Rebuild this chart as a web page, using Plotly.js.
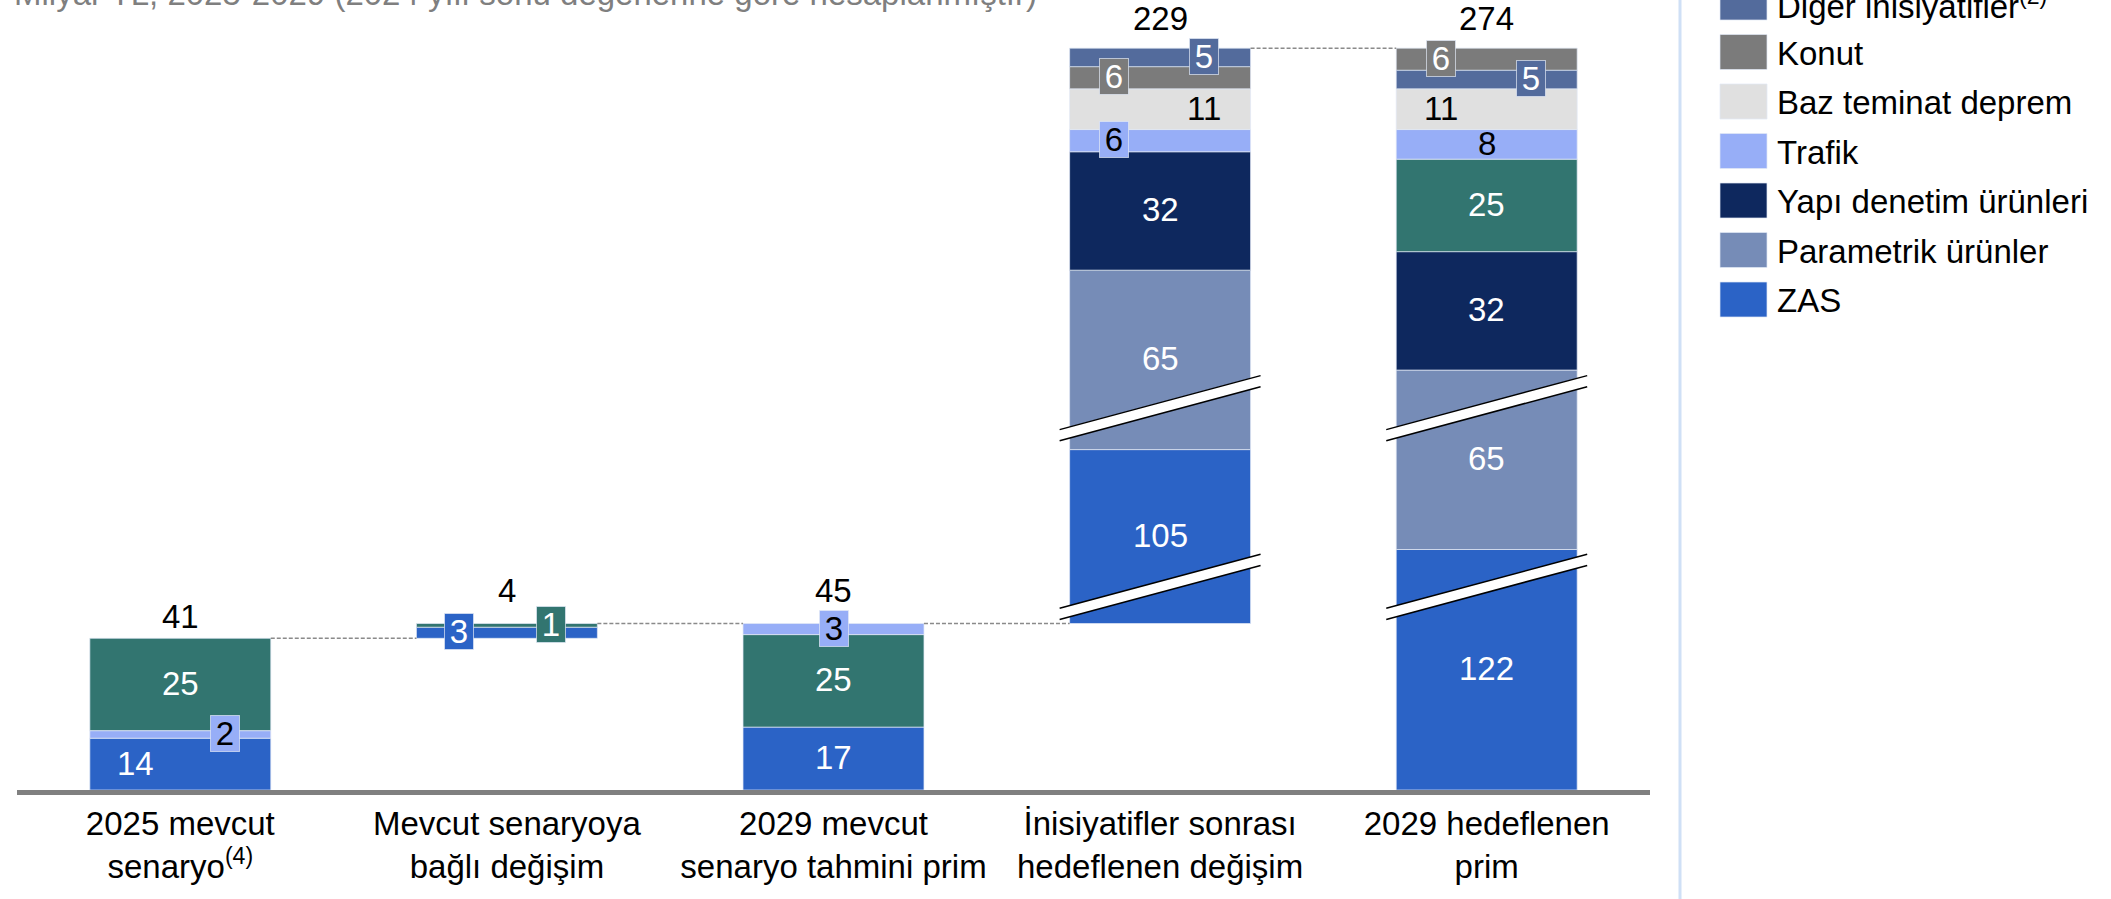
<!DOCTYPE html>
<html><head><meta charset="utf-8">
<script src="https://cdn.plot.ly/plotly-3.0.1.min.js"></script>
<style>html,body{margin:0;padding:0;background:#fff;}#chart{width:2111px;height:899px;}</style>
</head><body><div id="chart"></div>
<script>
// ---------- DATA ----------
const categories = [
  "2025 mevcut<br>senaryo<sup>(4)</sup>",
  "Mevcut senaryoya<br>bağlı değişim",
  "2029 mevcut<br>senaryo tahmini prim",
  "İnisiyatifler sonrası<br>hedeflenen değişim",
  "2029 hedeflenen<br>prim"
];
const barKinds = ["total", "change", "total", "change", "total"];
const totalLabels = [41, 4, 45, 229, 274];

const zas         = [14, 3, 17, 105, 122];
const parametrik  = [0, 0, 0, 65, 65];
const yapiDenetim = [0, 0, 0, 32, 32];
const mevcut      = [25, 1, 25, 0, 25];
const trafik      = [2, 0, 3, 6, 8];
const bazTeminat  = [0, 0, 0, 11, 11];
const konut       = [0, 0, 0, 6, 6];
const diger       = [0, 0, 0, 5, 5];

const seriesNames = {
  diger: "Diğer inisiyatifler<sup>(2)</sup>",
  konut: "Konut",
  baz: "Baz teminat deprem",
  trafik: "Trafik",
  yapi: "Yapı denetim ürünleri",
  parametrik: "Parametrik ürünler",
  zas: "ZAS",
  mevcut: "Mevcut"
};
const legendOrder = ["diger", "konut", "baz", "trafik", "yapi", "parametrik", "zas"];

// axis break: amount of each value hidden by the "//" break marks
const zasBreak = [0, 0, 0, 58, 57];
const parametrikBreak = [0, 0, 0, 16.5, 16.5];

// stacking order (bottom to top) in each bar
const stackOrder = [
  ["zas", "trafik", "mevcut"],
  ["zas", "mevcut"],
  ["zas", "mevcut", "trafik"],
  ["zas", "parametrik", "yapi", "trafik", "baz", "konut", "diger"],
  ["zas", "parametrik", "yapi", "mevcut", "trafik", "baz", "diger", "konut"]
];

// ---------- STYLE ----------
const FONT = 'Arial, "Liberation Sans", Helvetica, sans-serif';
const FS = 33;
const colors = {
  zas: "#2B63C6", parametrik: "#768CB7", yapi: "#0E285E", mevcut: "#327570",
  trafik: "#97AEF7", baz: "#E0E0E0", konut: "#7B7B7B", diger: "#536B9C"
};
const textColors = {
  zas: "#fff", parametrik: "#fff", yapi: "#fff", mevcut: "#fff",
  trafik: "#000", baz: "#000", konut: "#fff", diger: "#fff"
};
const labelShift = {
  zas: [-45, -48, 0, 0, 0], trafik: [45, 0, 0, -46, 0], mevcut: [0, 44, 0, 0, 0],
  baz: [0, 0, 0, 44, -46], konut: [0, 0, 0, -46, -46], diger: [0, 0, 0, 44, 44]
};
const labelBadge = {
  zas: [0, 1, 0, 0, 0], trafik: [1, 0, 1, 1, 0], mevcut: [0, 1, 0, 0, 0],
  konut: [0, 0, 0, 1, 1], diger: [0, 0, 0, 1, 1]
};
const totalShift = [22, 33, 33, 30, 30];
const BAR_W = 0.554;
const PX_PER_UNIT = 3.7;
const PLOT_L = 17, PLOT_R = 1650, PLOT_B = 790;
const breakLevels = [54.9, 103.2];

const values = {
  zas: zas, parametrik: parametrik, yapi: yapiDenetim, mevcut: mevcut,
  trafik: trafik, baz: bazTeminat, konut: konut, diger: diger
};
const cuts = { zas: zasBreak, parametrik: parametrikBreak };

// ---------- LAYOUT COMPUTATION ----------
const n = categories.length;
const base = {}, disp = {};
Object.keys(values).forEach(k => { base[k] = Array(n).fill(null); disp[k] = Array(n).fill(null); });
const tops = [];
let prevTop = 0;
for (let i = 0; i < n; i++) {
  let cursor = barKinds[i] === "change" ? prevTop : 0;
  stackOrder[i].forEach(k => {
    const v = values[k][i];
    const d = v - (cuts[k] ? cuts[k][i] : 0);
    base[k][i] = cursor;
    disp[k][i] = d;
    cursor += d;
  });
  tops.push(cursor);
  prevTop = cursor;
}

const xs = categories.map((c, i) => i);
const traces = Object.keys(values).map(k => ({
  type: "bar", x: xs, y: disp[k], base: base[k], width: BAR_W,
  name: seriesNames[k], customdata: values[k],
  marker: { color: colors[k], line: { width: 1, color: "rgba(225,232,245,0.7)" } },
  hovertemplate: "%{customdata}<extra>" + seriesNames[k] + "</extra>",
  showlegend: false
}));

const annotations = [];
const shapes = [];
// segment labels
for (let i = 0; i < n; i++) {
  stackOrder[i].forEach(k => {
    const badge = labelBadge[k] && labelBadge[k][i];
    const a = {
      x: i, y: base[k][i] + disp[k][i] / 2, xref: "x", yref: "y",
      text: String(values[k][i]), showarrow: false,
      xshift: labelShift[k] ? labelShift[k][i] : 0,
      yshift: 1,
      font: { family: FONT, size: FS, color: textColors[k] },
      xanchor: "center", yanchor: "middle"
    };
    if (badge) {
      a.bgcolor = colors[k];
      a.width = 28 + (String(values[k][i]).length - 1) * 18;
      a.height = 35;
      a.borderpad = 0;
      a.bordercolor = "rgba(225,232,245,0.7)";
      a.borderwidth = 1;
    }
    annotations.push(a);
  });
  annotations.push({
    x: i, y: tops[i], xref: "x", yref: "y", text: String(totalLabels[i]),
    showarrow: false, yshift: totalShift[i], yanchor: "middle",
    font: { family: FONT, size: FS, color: "#000" }
  });
}
// connectors
for (let i = 0; i < n - 1; i++) {
  shapes.push({
    type: "line", xref: "x", yref: "y",
    x0: i + BAR_W / 2, x1: i + 1 - BAR_W / 2, y0: tops[i], y1: tops[i],
    line: { color: "#8a8a8a", width: 1.5, dash: "4px,2px" }
  });
}
// axis break marks
const half = BAR_W / 2 + 10 / ((PLOT_R - PLOT_L) / n);
const rise = (54 / PX_PER_UNIT) / 2;
const gap = 1.5;
for (let i = 0; i < n; i++) {
  breakLevels.forEach(lv => {
    const broken = Object.keys(cuts).some(k => cuts[k][i] > 0 && base[k][i] < lv && base[k][i] + disp[k][i] > lv);
    if (!broken) return;
    const x0 = i - half, x1 = i + half;
    shapes.push({
      type: "path", xref: "x", yref: "y",
      path: `M${x0},${lv - rise - gap} L${x1},${lv + rise - gap} L${x1},${lv + rise + gap} L${x0},${lv - rise + gap} Z`,
      fillcolor: "#fff", line: { width: 0 }
    });
    [-gap, gap].forEach(o => shapes.push({
      type: "line", xref: "x", yref: "y",
      x0: x0, y0: lv - rise + o, x1: x1, y1: lv + rise + o,
      line: { color: "#000", width: 1.5 }
    }));
  });
}
// legend drawn in paper coordinates
const W = PLOT_R - PLOT_L;
const px2x = px => (px - PLOT_L) / W;
const py2y = py => 1 - py / PLOT_B;
legendOrder.forEach((k, j) => {
  const cy = 2.5 + 49.5 * j;
  shapes.push({
    type: "rect", xref: "paper", yref: "paper",
    x0: px2x(1720), x1: px2x(1767), y0: py2y(cy + 17.5), y1: py2y(cy - 17.5),
    fillcolor: colors[k], line: { width: 1, color: "rgba(225,232,245,0.7)" }
  });
  annotations.push({
    xref: "paper", yref: "paper", x: px2x(1775), y: py2y(cy), xanchor: "left", yanchor: "middle",
    yshift: -1,
    text: seriesNames[k], showarrow: false,
    font: { family: FONT, size: FS, color: "#000" }
  });
});
// separator line
shapes.push({
  type: "line", xref: "paper", yref: "paper",
  x0: px2x(1680), x1: px2x(1680), y0: py2y(899), y1: py2y(0),
  line: { color: "#cfe0f6", width: 3 }
});
// subtitle (cut at top)
annotations.push({
  xref: "paper", yref: "paper", x: px2x(12), y: 1, xanchor: "left", yanchor: "bottom",
  yshift: -14, text: "Milyar TL, 2025-2029 (2024 yılı sonu değerlerine göre hesaplanmıştır)",
  showarrow: false, font: { family: FONT, size: FS, color: "#7f7f7f" }
});

const layout = {
  width: 2111, height: 899,
  margin: { l: PLOT_L, r: 2111 - PLOT_R, t: 0, b: 899 - PLOT_B, pad: 0 },
  paper_bgcolor: "#fff", plot_bgcolor: "#fff",
  barmode: "overlay", showlegend: false,
  font: { family: FONT, size: FS, color: "#000" },
  xaxis: {
    range: [-0.5, n - 0.5], tickmode: "array", tickvals: xs, ticktext: categories,
    showgrid: false, zeroline: false, showline: true, linewidth: 5, linecolor: "#808080",
    ticks: "", tickfont: { family: FONT, size: FS, color: "#000" }, fixedrange: true
  },
  yaxis: { range: [0, PLOT_B / PX_PER_UNIT], visible: false, showgrid: false, zeroline: false, fixedrange: true },
  annotations: annotations, shapes: shapes
};

Plotly.newPlot("chart", traces, layout, { staticPlot: true, displayModeBar: false });
</script>
</body></html>
